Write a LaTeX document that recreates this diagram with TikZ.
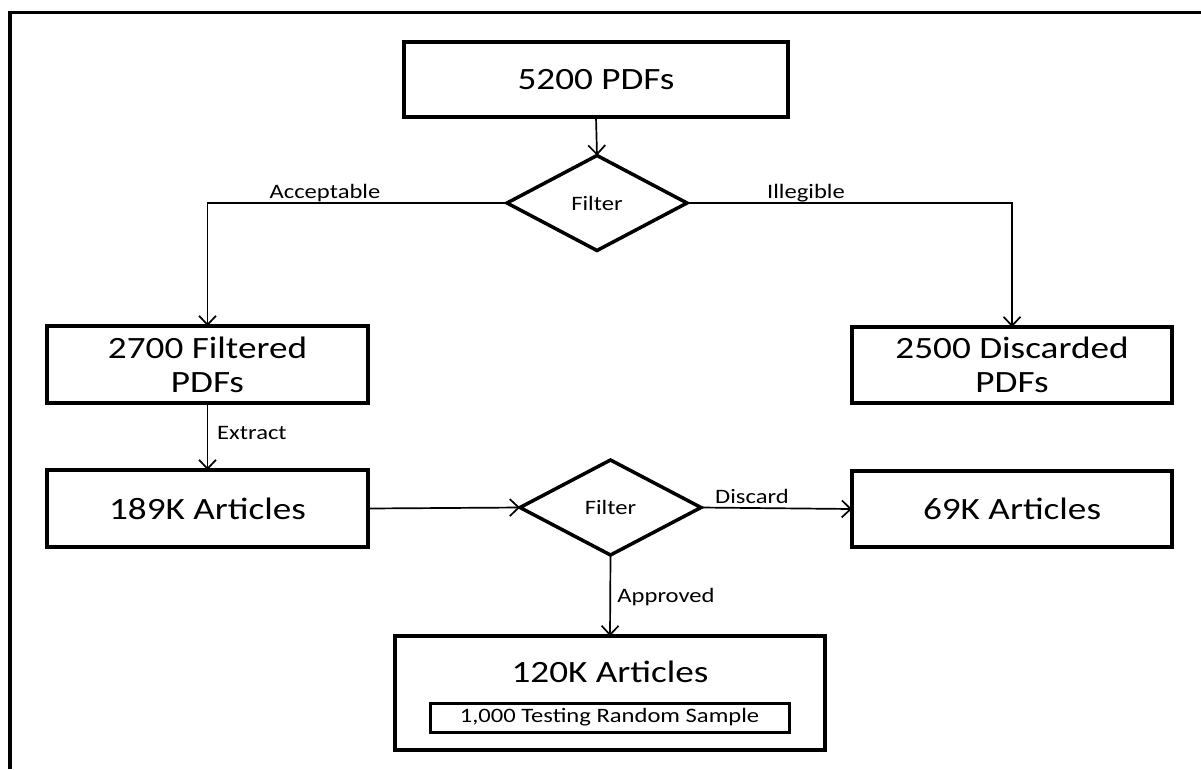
\documentclass[tikz,border=0pt]{standalone}
\usepackage{fontspec}
\setmainfont{Carlito}[FakeStretch=1.2]
\usetikzlibrary{arrows.meta,shapes.geometric}
\tikzset{
  box/.style={draw, line width=3.5pt, rectangle, inner sep=0pt, outer sep=0pt, align=center, font=\fontsize{31}{34}\selectfont},
  dia/.style={draw, line width=3.5pt, diamond, inner sep=0pt, outer sep=0pt, font=\fontsize{20.5}{24}\selectfont},
  conn/.style={line width=1.7pt, -{Straight Barb[length=9pt,width=17pt,line width=1.7pt]}},
  lab/.style={font=\fontsize{20.5}{24}\selectfont, inner sep=0pt},
}
\begin{document}
\begin{tikzpicture}[x=1pt,y=-1pt]
\useasboundingbox (0,0) rectangle (1201,769);
% frame
\draw[line width=4pt] (10,11) -- (10,769);
\draw[line width=3.5pt] (8,12.5) -- (1201,12.5);
% nodes
\node[box, minimum width=384pt, minimum height=75pt] (b5200) at (596,79.5) {5200 PDFs};
\node[dia, minimum width=180pt, minimum height=95pt] (d1) at (597,203) {Filter};
\node[box, minimum width=321pt, minimum height=77pt] (b2700) at (207.5,364.5) {2700 Filtered\\PDFs};
\node[box, minimum width=320pt, minimum height=76pt] (b2500) at (1012,365) {2500 Discarded\\PDFs};
\node[box, minimum width=321pt, minimum height=77pt] (b189) at (207.5,508.5) {189K Articles};
\node[dia, minimum width=181pt, minimum height=95pt] (d2) at (610.5,507.5) {Filter};
\node[box, minimum width=430pt, minimum height=114pt] (b120) at (610,693) {};
\node[box, minimum width=320pt, minimum height=76pt] (b69) at (1012,509) {69K Articles};
\node[font=\fontsize{31}{34}\selectfont, inner sep=0pt] (t120) at (610,672) {120K Articles};
\node[draw, line width=3pt, inner sep=0pt, minimum width=359pt, minimum height=29pt, font=\fontsize{20.5}{24}\selectfont] (samp) at (609.5,717.5) {1,000 Testing Random Sample};
% connectors
\draw[conn] (b5200.south) -- (d1.north);
\draw[conn] (d1.west) -| (b2700.north);
\draw[conn] (d1.east) -| (b2500.north);
\draw[conn] (b2700.south) -- (b189.north);
\draw[conn] (b189.east) -- (d2.west);
\draw[conn] (d2.east) -- (b69.west);
\draw[conn] (d2.south) -- (b120.north);
% labels
\node[lab, anchor=base] (lacc) at (325,198) {Acceptable};
\node[lab, anchor=base] (lill) at (806,198) {Illegible};
\node[lab, anchor=base west] (lext) at (217,439) {Extract};
\node[lab, anchor=base] (ldis) at (752,503) {Discard};
\node[lab, anchor=base] (lapp) at (666,602) {Approved};
\end{tikzpicture}
\end{document}
